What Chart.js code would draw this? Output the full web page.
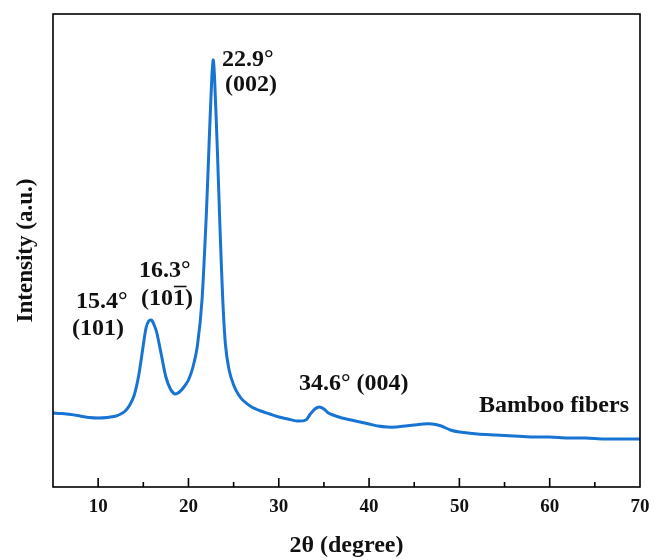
<!DOCTYPE html>
<html>
<head>
<meta charset="utf-8">
<script src="https://cdn.jsdelivr.net/npm/chart.js@4"></script>
<style>
  html, body { margin: 0; padding: 0; background: #ffffff; }
  #wrap { width: 654px; height: 560px; }
</style>
</head>
<body>
<div id="wrap"><canvas id="c" width="654" height="560"></canvas></div>
<script>
// ---- data (2θ in degrees, intensity in arbitrary units) ----
const twoTheta = [
  5, 6, 7, 8, 9, 10, 11, 12, 12.5, 13, 13.5, 14, 14.5, 15, 15.3, 15.6, 15.9, 16.2, 16.5,
  17, 17.5, 18, 18.5, 19, 19.5, 20, 20.5, 21, 21.5, 22, 22.3, 22.6, 22.75, 22.9, 23.2,
  23.5, 23.8, 24.1, 24.5, 25, 25.5, 26, 27, 28, 29, 30, 31, 32, 33, 33.5, 34, 34.5, 35,
  35.5, 36, 37, 38, 39, 40, 41, 42, 43, 44, 45, 46, 47, 48, 49, 50, 52, 54, 56, 58, 60,
  62, 64, 66, 68, 70
];
const intensity = [
  740, 735, 725, 710, 695, 690, 695, 710, 730, 760, 820, 920, 1120, 1420, 1590, 1660, 1670, 1620, 1540,
  1320, 1100, 980, 930, 950, 1000, 1070, 1200, 1420, 1870, 2770, 3470, 4120, 4270, 4070, 3370,
  2570, 1870, 1420, 1170, 1020, 930, 870, 800, 760, 730, 700, 680, 660, 670, 730, 780, 800, 780,
  740, 720, 690, 670, 650, 630, 610, 600, 600, 610, 620, 630, 630, 610, 570, 550, 530, 520, 510, 500, 500,
  490, 490, 480, 480, 480
];
const xTickValues = [10, 20, 30, 40, 50, 60, 70];
const seriesName = 'Bamboo fibers';
const peakTexts = ['15.4°', '16.3°', '22.9°', '34.6° (004)'];
const planeTexts = ['(101)', '(101)', '(002)', ''];
const xTitle = '2θ (degree)';
const yTitle = 'Intensity (a.u.)';

const points = twoTheta.map((x, i) => ({ x: x, y: intensity[i] }));

const FONT = '"Liberation Serif", "Times New Roman", serif';

const framePlugin = {
  id: 'frameAndTicks',
  afterDraw(chart) {
    const ctx = chart.ctx;
    const a = chart.chartArea;
    const xs = chart.scales.x;
    ctx.save();
    ctx.strokeStyle = '#000';
    ctx.lineWidth = 1.6;
    ctx.strokeRect(a.left, a.top, a.right - a.left, a.bottom - a.top);
    // inward ticks on the bottom axis
    xs.ticks.forEach(t => {
      const v = t.value;
      if (v <= xs.min || v >= xs.max) return;
      const px = xs.getPixelForValue(v);
      const len = (v % 10 === 0) ? 9 : 5;
      ctx.beginPath();
      ctx.moveTo(px, a.bottom);
      ctx.lineTo(px, a.bottom - len);
      ctx.stroke();
    });
    ctx.restore();
  }
};

const labelPlugin = {
  id: 'peakLabels',
  afterDatasetsDraw(chart) {
    const ctx = chart.ctx;
    ctx.save();
    ctx.fillStyle = '#111';
    ctx.strokeStyle = '#111';
    ctx.font = 'bold 24px ' + FONT;
    ctx.textBaseline = 'middle';
    ctx.textAlign = 'left';
    // layout (left x, centre y) for each label, in canvas pixels
    const peakPos = [[76, 302], [139, 271], [222, 60], [299, 384]];
    const planePos = [[72, 329], [141, 299], [225, 85], null];
    peakTexts.forEach((t, i) => {
      ctx.fillText(t, peakPos[i][0], peakPos[i][1]);
      if (planeTexts[i]) {
        ctx.fillText(planeTexts[i], planePos[i][0], planePos[i][1]);
      }
    });
    // overline over last "1" of the second (101)
    const base = planePos[1];
    const w0 = ctx.measureText('(10').width;
    const w1 = ctx.measureText('1').width;
    ctx.lineWidth = 1.6;
    ctx.beginPath();
    ctx.moveTo(base[0] + w0 + 1, base[1] - 12.5);
    ctx.lineTo(base[0] + w0 + w1 + 1.5, base[1] - 12.5);
    ctx.stroke();
    // series name
    ctx.fillText(seriesName, 479, 406);
    ctx.restore();
  }
};

new Chart(document.getElementById('c'), {
  type: 'line',
  data: {
    datasets: [{
      label: seriesName,
      data: points,
      borderColor: '#1874d2',
      borderWidth: 3,
      pointRadius: 0,
      tension: 0.25,
      fill: false
    }]
  },
  options: {
    responsive: false,
    animation: false,
    devicePixelRatio: 1,
    layout: { padding: { left: 0, right: 14, top: 14, bottom: 0 } },
    plugins: { legend: { display: false }, tooltip: { enabled: false } },
    scales: {
      x: {
        type: 'linear',
        min: 5,
        max: 70,
        afterFit(s) { s.height = 73; s.paddingLeft = 0; s.paddingRight = 0; },
        border: { display: false },
        grid: { display: false, drawTicks: false },
        ticks: {
          stepSize: 5,
          autoSkip: false,
          maxRotation: 0,
          padding: 9,
          color: '#111',
          font: { family: FONT, size: 19, weight: 'bold' },
          callback: v => (xTickValues.includes(v) ? String(v) : '')
        },
        title: {
          display: true,
          text: xTitle,
          color: '#111',
          font: { family: FONT, size: 24, weight: 'bold' },
          padding: { top: 0, bottom: 0 }
        }
      },
      y: {
        min: 0,
        max: 4730,
        afterFit(s) { s.width = 53; s.paddingTop = 0; s.paddingBottom = 0; },
        border: { display: false },
        grid: { display: false, drawTicks: false },
        ticks: { display: false },
        title: {
          display: true,
          text: yTitle,
          color: '#111',
          font: { family: FONT, size: 23, weight: 'bold' },
          padding: { top: 12, bottom: 0 }
        }
      }
    }
  },
  plugins: [framePlugin, labelPlugin]
});
</script>
</body>
</html>
